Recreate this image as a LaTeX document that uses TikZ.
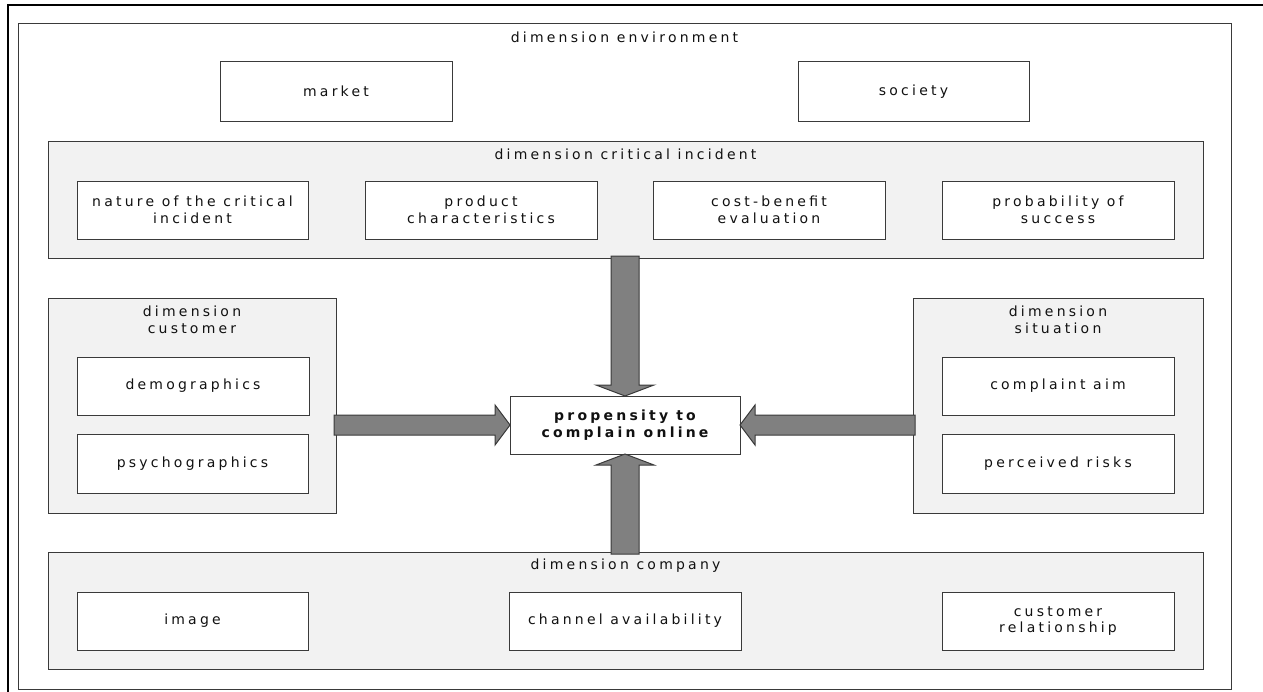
\documentclass[tikz,border=0pt]{standalone}
\usepackage{fontspec}
\setmainfont{DejaVu Sans}[LetterSpace=23]
\usetikzlibrary{calc,shadows}
\definecolor{panelgray}{HTML}{F2F2F2}
\definecolor{edgegray}{HTML}{3A3A3A}
\definecolor{arrowgray}{HTML}{808080}
\definecolor{ink}{HTML}{111111}

% block arrow from #1 (back end) to #2 (tip); #3 shaft half width,
% #4 head half width, #5 head length -- all in pixel units
\newcommand\blockarrow[5]{%
  \coordinate (ba-s) at (#1);
  \coordinate (ba-t) at (#2);
  \coordinate (ba-h) at ($(ba-t)!{#5*0.75pt}!(ba-s)$);
  \draw[bigarrow]
    ($(ba-s)!{#3*0.75pt}!90:(ba-t)$) --
    ($(ba-h)!{#3*0.75pt}!-90:(ba-s)$) --
    ($(ba-h)!{#4*0.75pt}!-90:(ba-s)$) --
    (ba-t) --
    ($(ba-h)!{#4*0.75pt}!90:(ba-s)$) --
    ($(ba-h)!{#3*0.75pt}!90:(ba-s)$) --
    ($(ba-s)!{#3*0.75pt}!-90:(ba-t)$) -- cycle;
}

\begin{document}
\begin{tikzpicture}[x=0.75pt,y=-0.75pt,
  every node/.style={inner sep=0pt,outer sep=0pt,text=ink,
    font=\fontsize{10.5}{12.6}\selectfont},
  sz/.style 2 args={minimum width=#1*0.75pt,minimum height=#2*0.75pt},
  shadowed/.style={drop shadow={shadow xshift=0.8pt,shadow yshift=-0.8pt,
    fill=black,opacity=0.35}},
  dimbox/.style={draw=edgegray,line width=0.75pt,fill=panelgray,shadowed},
  envbox/.style={draw=edgegray,line width=0.75pt,fill=white,shadowed},
  factor/.style={draw=edgegray,line width=0.75pt,fill=white,shadowed,
    align=center},
  bigarrow/.style={fill=arrowgray,draw=edgegray,line width=0.75pt,
    line join=miter},
  frame/.style={draw=black,line width=1.7pt}
]
\useasboundingbox (0,0) rectangle (1263,692);

% partial outer frame
\draw[frame] (8,692) -- (8,5) -- (1263,5);

% environment
\node[envbox,sz={1213}{665}] (env) at (624.5,356.5) {};
\node (envlab) at (624.5,37) {dimension environment};
\node[factor,sz={232}{59}] (market) at (336,91.5) {market};
\node[factor,sz={231}{59}] (society) at (913.5,91.5) {society};

% critical incident
\node[dimbox,sz={1155}{117}] (crit) at (625.5,199.5) {};
\node (critlab) at (625.5,154) {dimension critical incident};
\node[factor,sz={231}{58}] (nature) at (192.5,210) {nature of the critical\\incident};
\node[factor,sz={232}{58}] (product) at (481,210) {product\\characteristics};
\node[factor,sz={232}{58}] (costben) at (769,210) {cost-benefit\\evaluation};
\node[factor,sz={232}{58}] (success) at (1058,210) {probability of\\success};

% customer
\node[dimbox,sz={288}{215}] (cust) at (192,405.5) {};
\node[align=center] (custlab) at (192,320) {dimension\\customer};
\node[factor,sz={232}{58}] (demo) at (193,386) {demographics};
\node[factor,sz={231}{59}] (psycho) at (192.5,463.5) {psychographics};

% situation
\node[dimbox,sz={290}{215}] (sit) at (1058,405.5) {};
\node[align=center] (sitlab) at (1058,320) {dimension\\situation};
\node[factor,sz={232}{58}] (aim) at (1058,386) {complaint aim};
\node[factor,sz={232}{59}] (risks) at (1058,463.5) {perceived risks};

% company
\node[dimbox,sz={1155}{117}] (comp) at (625.5,610.5) {};
\node (complab) at (625.5,566) {dimension company};
\node[factor,sz={231}{58}] (image) at (192.5,621) {image};
\node[factor,sz={232}{58}] (channel) at (625,621) {channel availability};
\node[factor,sz={232}{58}] (custrel) at (1058,621) {customer\\relationship};

% central construct
\node[factor,sz={230}{58},font=\fontsize{10.5}{12.6}\selectfont\bfseries]
  (core) at (625,425) {propensity to\\complain online};

% influence arrows
\blockarrow{$(core.north |- crit.south)+(0,-2)$}{core.north}{14}{29}{11}
\blockarrow{$(core.south |- comp.north)+(0,2)$}{core.south}{14}{29}{11}
\blockarrow{$(cust.east |- core.west)+(-2,0)$}{core.west}{10}{20}{15}
\blockarrow{$(sit.west |- core.east)+(2,0)$}{core.east}{10}{20}{15}
\end{tikzpicture}
\end{document}
